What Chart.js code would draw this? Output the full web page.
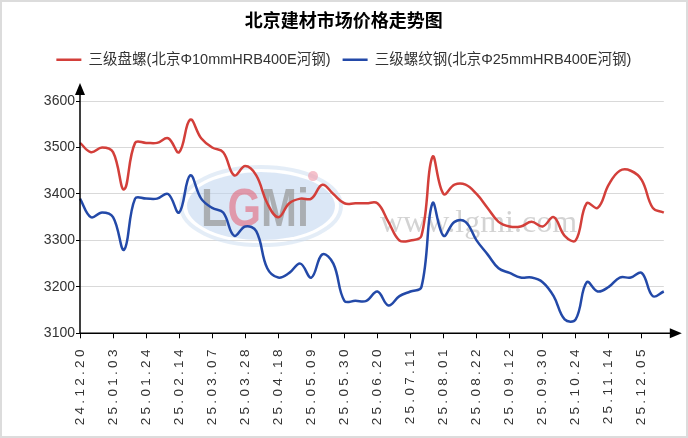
<!DOCTYPE html>
<html>
<head>
<meta charset="utf-8">
<script src="https://cdn.jsdelivr.net/npm/chart.js@4/dist/chart.umd.min.js"></script>
<style>
  html, body { margin: 0; padding: 0; background: #fff; }
  #wrap { position: relative; width: 688px; height: 438px; }
</style>
</head>
<body>
<div id="wrap"><canvas id="chart"></canvas></div>
<script>
// weekly sample dates (labels shown every third point)
const dates = ['24.12.20','24.12.27','24.12.31','25.01.03','25.01.10','25.01.17','25.01.24','25.01.27','25.02.07','25.02.14',
  '25.02.21','25.02.28','25.03.07','25.03.14','25.03.21','25.03.28','25.04.03','25.04.11','25.04.18','25.04.25',
  '25.04.30','25.05.09','25.05.16','25.05.23','25.05.30','25.06.06','25.06.13','25.06.20','25.06.27','25.07.04',
  '25.07.11','25.07.18','25.07.25','25.08.01','25.08.08','25.08.15','25.08.22','25.08.29','25.09.05','25.09.12',
  '25.09.19','25.09.26','25.09.30','25.10.10','25.10.17','25.10.24','25.10.31','25.11.07','25.11.14','25.11.21',
  '25.11.28','25.12.05','25.12.12','25.12.19'];

const tickLabels = ['24.12.20','25.01.03','25.01.24','25.02.14','25.03.07','25.03.28','25.04.18','25.05.09','25.05.30',
  '25.06.20','25.07.11','25.08.01','25.08.22','25.09.12','25.09.30','25.10.24','25.11.14','25.12.05'];

// 三级盘螺(北京Φ10mmHRB400E河钢)
const coilPrices = [3510,3490,3500,3490,3410,3510,3510,3510,3520,3490,
  3560,3520,3500,3490,3440,3460,3440,3380,3350,3380,
  3390,3390,3420,3400,3380,3380,3380,3380,3340,3300,
  3300,3310,3480,3400,3420,3420,3400,3370,3340,3330,
  3330,3340,3330,3350,3310,3300,3380,3370,3420,3450,
  3450,3430,3370,3360];

// 三级螺纹钢(北京Φ25mmHRB400E河钢)
const rebarPrices = [3390,3350,3360,3350,3280,3390,3390,3390,3400,3360,
  3440,3390,3370,3360,3310,3330,3320,3240,3220,3230,
  3250,3220,3270,3250,3170,3170,3170,3190,3160,3180,
  3190,3200,3380,3310,3340,3340,3300,3270,3240,3230,
  3220,3220,3210,3180,3130,3130,3210,3190,3200,3220,
  3220,3230,3180,3190];

const yTicks = [3100, 3200, 3300, 3400, 3500, 3600];

const latin = '"Liberation Sans", "Noto Sans CJK SC", sans-serif';

// category axis whose labels are drawn letter-spaced
class SpacedCategoryScale extends Chart.CategoryScale {
  drawLabels(chartArea) {
    const ctx = this.ctx;
    ctx.save();
    ctx.letterSpacing = '3.3px';
    super.drawLabels(chartArea);
    ctx.restore();
  }
}
SpacedCategoryScale.id = 'spacedCategory';
SpacedCategoryScale.defaults = Chart.CategoryScale.defaults;
Chart.register(SpacedCategoryScale);

// white background + thin frame
const frame = {
  id: 'frame',
  beforeDraw(chart) {
    const { ctx, width, height } = chart;
    ctx.save();
    ctx.fillStyle = '#fff';
    ctx.fillRect(0, 0, width, height);
    ctx.strokeStyle = '#dcdcdc';
    ctx.lineWidth = 2;
    ctx.strokeRect(1, 1, width - 2, height - 2);
    ctx.restore();
  }
};

// push the plot down below the legend
const legendGap = {
  id: 'legendGap',
  beforeInit(chart) {
    const fit = chart.legend.fit;
    chart.legend.fit = function () {
      fit.call(this);
      this.height += 24;
    };
  }
};

// faint site watermark behind the lines
const watermark = {
  id: 'watermark',
  beforeDatasetsDraw(chart) {
    const { ctx, chartArea: a } = chart;
    const cx = a.left + 181, cy = a.top + 105;
    ctx.save();
    ctx.beginPath();
    ctx.ellipse(cx, cy, 80, 39, 0, 0, Math.PI * 2);
    ctx.strokeStyle = 'rgba(205,222,240,0.55)';
    ctx.lineWidth = 4;
    ctx.stroke();
    ctx.beginPath();
    ctx.ellipse(cx, cy, 74, 34, 0, 0, Math.PI * 2);
    ctx.fillStyle = 'rgba(190,212,238,0.55)';
    ctx.fill();

    ctx.font = 'bold 54px "Liberation Sans"';
    ctx.textBaseline = 'alphabetic';
    const parts = [['L', 'rgba(150,150,150,0.7)'], ['G', 'rgba(228,90,110,0.55)'],
                   ['M', 'rgba(150,150,150,0.7)'], ['i', 'rgba(150,150,150,0.7)']];
    ctx.translate(cx - 60, cy + 20);
    ctx.scale(0.8, 1);
    let x = 0;
    parts.forEach(([t, c]) => {
      ctx.fillStyle = c;
      ctx.fillText(t, x, 0);
      x += ctx.measureText(t).width;
    });
    ctx.restore();

    ctx.save();
    ctx.beginPath();
    ctx.arc(cx + 52, cy - 30, 5, 0, Math.PI * 2);
    ctx.fillStyle = 'rgba(240,160,175,0.65)';
    ctx.fill();
    ctx.font = '32px "Liberation Serif"';
    ctx.fillStyle = 'rgba(150,150,150,0.42)';
    ctx.fillText('www.lgmi.com', a.left + 300, a.top + 122);
    ctx.restore();
  }
};

// axis lines with arrow heads
const axisArrows = {
  id: 'axisArrows',
  afterDraw(chart) {
    const { ctx, chartArea: a } = chart;
    ctx.save();
    ctx.strokeStyle = '#000';
    ctx.fillStyle = '#000';
    ctx.lineWidth = 1.5;
    ctx.beginPath();
    ctx.moveTo(a.left, a.bottom);
    ctx.lineTo(a.left, a.top - 10);
    ctx.moveTo(a.left, a.bottom);
    ctx.lineTo(a.right + 10, a.bottom);
    ctx.stroke();
    ctx.beginPath();
    ctx.moveTo(a.left, a.top - 18);
    ctx.lineTo(a.left - 5, a.top - 6);
    ctx.lineTo(a.left + 5, a.top - 6);
    ctx.closePath();
    ctx.fill();
    ctx.beginPath();
    ctx.moveTo(a.right + 18, a.bottom);
    ctx.lineTo(a.right + 6, a.bottom - 5);
    ctx.lineTo(a.right + 6, a.bottom + 5);
    ctx.closePath();
    ctx.fill();
    ctx.restore();
  }
};

const isTick = (i) => tickLabels.includes(dates[i]);

new Chart(document.querySelector('#chart'), {
  type: 'line',
  data: {
    labels: dates,
    datasets: [
      {
        label: '三级盘螺(北京Φ10mmHRB400E河钢)',
        data: coilPrices,
        borderColor: '#d33f3a',
        backgroundColor: '#d33f3a',
        borderWidth: 2.5,
        pointRadius: 0,
        tension: 0.4
      },
      {
        label: '三级螺纹钢(北京Φ25mmHRB400E河钢)',
        data: rebarPrices,
        borderColor: '#2349a8',
        backgroundColor: '#2349a8',
        borderWidth: 2.5,
        pointRadius: 0,
        tension: 0.4
      }
    ]
  },
  options: {
    responsive: true,
    maintainAspectRatio: false,
    animation: false,
    layout: { padding: { left: 21, right: 21.3, top: 0, bottom: 0 } },
    plugins: {
      title: {
        display: true,
        text: '北京建材市场价格走势图',
        color: '#000',
        font: { size: 18, weight: 'bold', family: '"Noto Sans CJK SC", sans-serif' },
        padding: { top: 9, bottom: 10 }
      },
      legend: {
        labels: {
          usePointStyle: true,
          pointStyle: 'line',
          pointStyleWidth: 25,
          color: '#333',
          font: { size: 14.5, family: latin },
          padding: 12
        }
      },
      tooltip: { enabled: false }
    },
    scales: {
      x: {
        type: 'spacedCategory',
        afterFit(scale) { scale.height = 104.7; },
        border: { display: false },
        grid: {
          drawOnChartArea: false,
          drawTicks: true,
          tickLength: 5,
          tickColor: (c) => isTick(c.index) ? '#000' : 'rgba(0,0,0,0)'
        },
        ticks: {
          autoSkip: false,
          minRotation: 90,
          maxRotation: 90,
          padding: 8,
          color: '#333',
          font: { size: 13.5, family: latin },
          callback: (value, index) => isTick(index) ? dates[index] : ''
        }
      },
      y: {
        min: yTicks[0],
        max: yTicks[yTicks.length - 1],
        afterFit(scale) { scale.width = 59; },
        afterBuildTicks(scale) { scale.ticks = yTicks.map(v => ({ value: v })); },
        border: { display: false },
        grid: {
          color: '#d9d9d9',
          tickColor: '#000',
          tickLength: 4
        },
        ticks: {
          padding: 1,
          color: '#333',
          font: { size: 14, family: latin },
          callback: (value) => String(value)
        }
      }
    }
  },
  plugins: [frame, legendGap, watermark, axisArrows]
});
</script>
</body>
</html>
